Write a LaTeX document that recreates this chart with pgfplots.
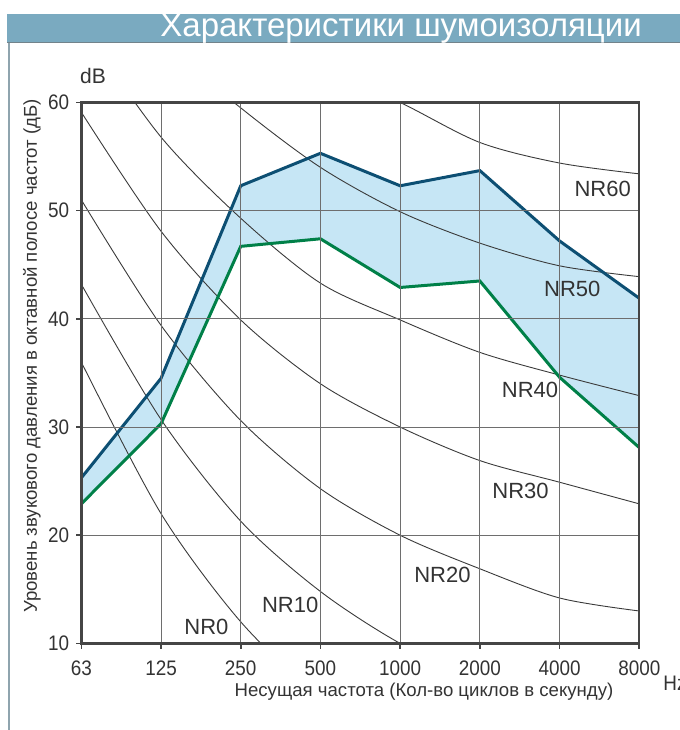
\documentclass[border=0pt]{standalone}
\usepackage{pgfplots}
\pgfplotsset{compat=1.18}
\usepackage{fontspec}
\setmainfont{Liberation Sans}
\newfontfamily\narrowf{Liberation Sans}[FakeStretch=0.9]
\definecolor{titlec}{HTML}{7AAAC0}
\definecolor{leftc}{HTML}{8FA4AE}
\definecolor{fillc}{HTML}{C6E6F5}
\definecolor{upc}{HTML}{0D4F73}
\definecolor{lowc}{HTML}{008048}
\definecolor{gridc}{HTML}{6E6E6E}
\definecolor{framec}{HTML}{454545}
\definecolor{nrc}{HTML}{3A3A3A}
\definecolor{txtc}{HTML}{333333}
\begin{document}
\begin{tikzpicture}[x=0.5pt,y=0.5pt]
\useasboundingbox (0,0) rectangle (680,730);
\fill[titlec] (7,716) rectangle (680,687);
\draw[leftc!80!black, line width=0.6pt] (7,687.3) -- (680,687.3);
\draw[leftc, line width=1pt] (8.5,687) -- (8.5,0);
\node[white, font=\fontsize{16.5}{19}\selectfont] at (401,701) {Характеристики шумоизоляции};
\begin{axis}[
  at={(102,80)}, anchor=south west,
  width=279pt, height=270.5pt, scale only axis,
  xmin=0, xmax=7, ymin=10, ymax=60,
  xtick={0,...,7},
  xticklabels={63,125,250,500,1000,2000,4000,8000},
  ytick={10,20,30,40,50,60},
  grid=major,
  major grid style={gridc, line width=0.5pt},
  axis line style={framec, line width=1.2pt},
  tick style={framec, line width=0.8pt},
  tick align=outside, major tick length=2.6pt,
  tick pos=left,
  axis on top,
  ticklabel style={font=\narrowf\fontsize{10.5}{12}\selectfont, text=txtc},
  xticklabel style={yshift=-2.5pt},
  /pgf/number format/assume math mode=true,
  clip=true,
]
% filled band between the two curves
\addplot[fill=fillc, draw=none] coordinates {
 (0,25.3) (1,34.5) (2,52.3) (3,55.3) (4,52.3) (5,53.7) (6,47.2) (7,41.9)
 (7,28.1) (6,34.6) (5,43.5) (4,42.9) (3,47.4) (2,46.7) (1,30.3) (0,22.9)
} -- cycle;
% NR curves
\addplot[nrc, line width=0.45pt, smooth] coordinates {(0,36) (1,22) (2,12) (3,5) (4,0) (5,-4) (6,-6) (7,-8)};
\addplot[nrc, line width=0.45pt, smooth] coordinates {(0,43.2) (1,30.7) (2,21.3) (3,14.8) (4,10) (5,6.6) (6,4.2) (7,2.3)};
\addplot[nrc, line width=0.45pt, smooth] coordinates {(0,51) (1,39.4) (2,30.6) (3,24.3) (4,20) (5,16.9) (6,14.2) (7,13.0)};
\addplot[nrc, line width=0.45pt, smooth] coordinates {(0,59.1) (1,48.1) (2,39.9) (3,34.0) (4,30) (5,26.9) (6,24.9) (7,22.9)};
\addplot[nrc, line width=0.45pt, smooth] coordinates {(0,67.1) (1,56.8) (2,49.3) (3,43.3) (4,39.9) (5,36.9) (6,34.8) (7,32.9)};
\addplot[nrc, line width=0.45pt, smooth] coordinates {(0,75) (1,65.8) (2,59.5) (3,54.0) (4,49.9) (5,47.0) (6,44.9) (7,43.9)};
\addplot[nrc, line width=0.45pt, smooth] coordinates {(0,83) (1,74) (2,68) (3,63.2) (4,60) (5,56.3) (6,54.4) (7,53.4)};
% data lines
\addplot[upc, line width=1.5pt] coordinates {(0,25.3) (1,34.5) (2,52.3) (3,55.3) (4,52.3) (5,53.7) (6,47.2) (7,41.9)};
\addplot[lowc, line width=1.5pt] coordinates {(0,22.9) (1,30.3) (2,46.7) (3,47.4) (4,42.9) (5,43.5) (6,34.6) (7,28.1)};
% NR labels
\begin{scope}[every node/.style={font=\fontsize{11}{13}\selectfont, text=txtc}]
\node at (axis cs:6.54,52.05) {NR60};
\node at (axis cs:6.16,42.8) {NR50};
\node at (axis cs:5.63,33.4) {NR40};
\node at (axis cs:5.51,24.05) {NR30};
\node at (axis cs:4.53,16.3) {NR20};
\node at (axis cs:2.62,13.6) {NR10};
\node at (axis cs:1.57,11.57) {NR0};
\end{scope}
\end{axis}
\node[text=txtc, font=\fontsize{10.5}{12}\selectfont] at (93,654) {dB};
\node[text=txtc, rotate=90, font=\fontsize{9.3}{11}\selectfont] at (32,374) {Уровень звукового давления в октавной полосе частот (дБ)};
\node[text=txtc, font=\fontsize{9.3}{11}\selectfont] at (424,38) {Несущая частота (Кол-во циклов в секунду)};
\node[text=txtc, anchor=west, inner sep=0pt, font=\narrowf\fontsize{10.5}{12}\selectfont] at (663,47) {Hz};
\end{tikzpicture}
\end{document}
